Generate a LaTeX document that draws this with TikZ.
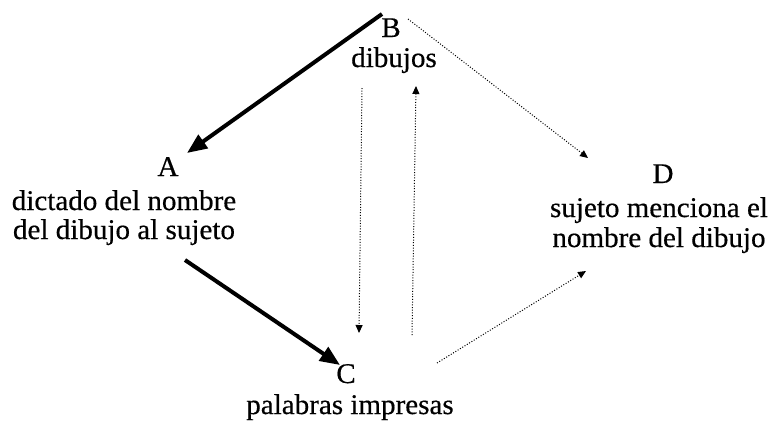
\documentclass[tikz,border=0pt]{standalone}
\usepackage{fontspec}
\setmainfont{Liberation Serif}[FakeStretch=1.02,FakeBold=0.5]
\usetikzlibrary{arrows.meta}
\begin{document}
\begin{tikzpicture}[x=1pt,y=-1pt,
  lbl/.style={inner sep=0pt, anchor=base, font=\fontsize{28.5}{30}\selectfont},
  thickarrow/.style={line width=4pt, -{Triangle[length=20pt,width=16pt]}},
  dotarrow/.style={line width=1pt, dash pattern=on 1pt off 1.7pt, -{Triangle[length=8pt,width=7pt]}}]
\useasboundingbox (0,0) rectangle (770,429);
% labels
\node[lbl] (B) at (391,37) {B};
\node[lbl] (Btext) at (394,67) {dibujos};
\node[lbl] (A) at (168,176) {A};
\node[lbl] (Atext1) at (124,210) {dictado del nombre};
\node[lbl] (Atext2) at (124,239) {del dibujo al sujeto};
\node[lbl] (D) at (663,183) {D};
\node[lbl] (Dtext1) at (659,217) {sujeto menciona el};
\node[lbl] (Dtext2) at (659,247) {nombre del dibujo};
\node[lbl] (C) at (346,383) {C};
\node[lbl] (Ctext) at (350,414) {palabras impresas};
% connector ends
\coordinate (BA1) at (382,14);
\coordinate (BA2) at (187,153);
\coordinate (AC1) at (185,260);
\coordinate (AC2) at (340,365);
\coordinate (BC1) at (362,88);
\coordinate (BC2) at (359,333);
\coordinate (CB1) at (412,335);
\coordinate (CB2) at (416,86);
\coordinate (BD1) at (408,19);
\coordinate (BD2) at (588,158);
\coordinate (CD1) at (437,363);
\coordinate (CD2) at (586,271);
% connectors
\draw[thickarrow] (BA1) -- (BA2);
\draw[thickarrow] (AC1) -- (AC2);
\draw[dotarrow] (BC1) -- (BC2);
\draw[dotarrow] (CB1) -- (CB2);
\draw[dotarrow] (BD1) -- (BD2);
\draw[dotarrow] (CD1) -- (CD2);
\end{tikzpicture}
\end{document}
